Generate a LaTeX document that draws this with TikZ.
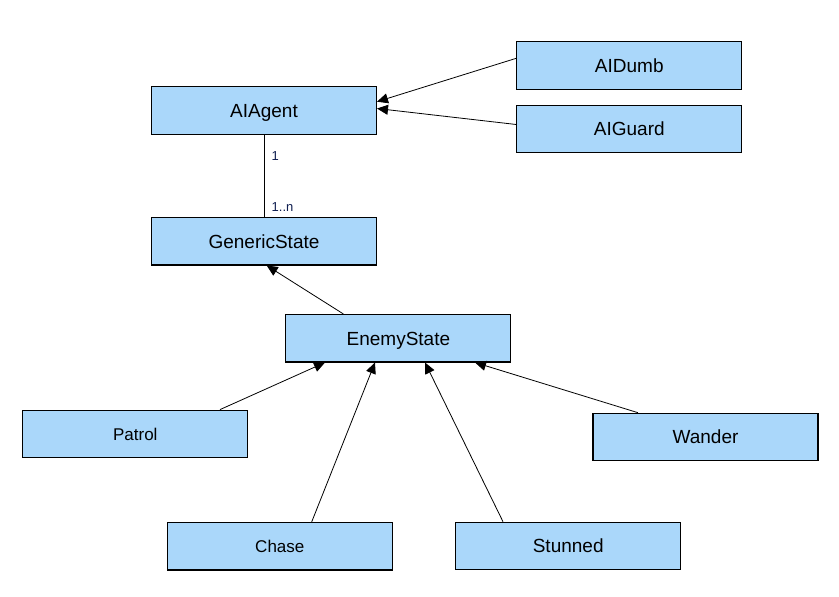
\documentclass[tikz,border=0pt]{standalone}
\usepackage{fontspec}
\setmainfont{Liberation Sans}
\usetikzlibrary{arrows.meta}
\definecolor{boxfill}{RGB}{170,215,250}
\definecolor{lblcol}{RGB}{15,30,80}
\begin{document}
\begin{tikzpicture}[x=1pt,y=-1pt,
  cls/.style={draw=black,line width=1.1pt,fill=boxfill,minimum width=225pt,minimum height=47.5pt,inner sep=0pt,text height=13.6pt,text depth=0pt,font=\fontsize{19}{22}\selectfont},
  clssmall/.style={cls,text height=12.2pt,font=\fontsize{17}{20}\selectfont},
  inh/.style={draw=black,line width=0.8pt,-{Triangle[length=11pt,width=10pt]}},
  assoc/.style={draw=black,line width=0.8pt},
  mult/.style={text=lblcol,font=\fontsize{13}{15}\selectfont,inner sep=0pt,anchor=west}]
\useasboundingbox (0,0) rectangle (839,597);
\node[cls] (agent) at (264,110.3) {AIAgent};
\node[cls] (dumb) at (629.3,65.5) {AIDumb};
\node[cls] (guard) at (629.3,128.8) {AIGuard};
\node[cls] (generic) at (264,241.2) {GenericState};
\node[cls] (enemy) at (398.4,338.2) {EnemyState};
\node[clssmall] (patrol) at (135.3,433.9) {Patrol};
\node[cls] (wander) at (705.5,437) {Wander};
\node[clssmall] (chase) at (279.8,546.2) {Chase};
\node[cls] (stunned) at (568.2,546) {Stunned};
\coordinate (aIn1) at (377,101.7);
\coordinate (aIn2) at (377,108.5);
\draw[inh] (dumb.west |- 0,58.3) -- (aIn1);
\draw[inh] (guard.west |- 0,124.5) -- (aIn2);
\draw[assoc] (agent.south) -- (generic.north);
\node[mult] (m1) at (271.5,156.5) {1};
\node[mult] (m2) at (271.5,207.5) {1..n};
\coordinate (gIn) at (266.7,265.5);
\draw[inh] (enemy.north -| 343.3,0) -- (gIn);
\coordinate (e1) at (325,362.5);
\coordinate (e2) at (375,362.5);
\coordinate (e3) at (425,362.5);
\coordinate (e4) at (475,362.5);
\draw[inh] (patrol.north -| 220,0) -- (e1);
\draw[inh] (chase.north -| 311.7,0) -- (e2);
\draw[inh] (stunned.north -| 503,0) -- (e3);
\draw[inh] (wander.north -| 638,0) -- (e4);
\end{tikzpicture}
\end{document}
